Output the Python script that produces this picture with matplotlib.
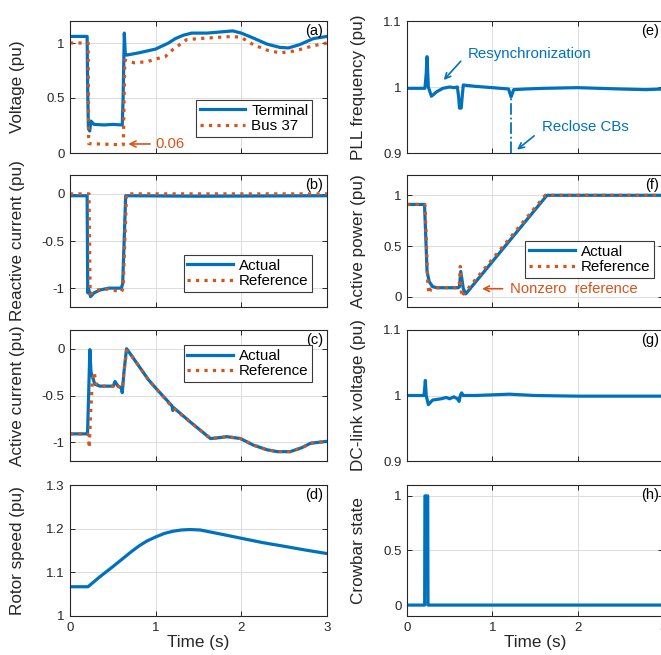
import matplotlib
matplotlib.use("Agg")
import matplotlib.pyplot as plt

plt.rcParams['font.family'] = ['Liberation Sans', 'DejaVu Sans']
plt.rcParams['axes.unicode_minus'] = False

BLUE = '#0072BD'
ORANGE = '#D95319'
DARK = '#262626'

# ---------------- data ----------------
# (a) voltage
t_term = [0, 0.2, 0.206, 0.215, 0.23, 0.245, 0.28, 0.4, 0.5, 0.61, 0.62, 0.634, 0.645, 0.66, 0.8, 1.0, 1.15,
          1.23, 1.32, 1.42, 1.6, 1.75, 1.9, 2.0, 2.14, 2.3, 2.45, 2.55, 2.68, 2.84, 3.0]
v_term = [1.06, 1.06, 0.6, 0.22, 0.2, 0.29, 0.26, 0.255, 0.26, 0.255, 0.5, 1.09, 0.9, 0.89, 0.91, 0.945, 1.0,
          1.04, 1.07, 1.09, 1.09, 1.1, 1.11, 1.09, 1.045, 0.99, 0.96, 0.955, 0.985, 1.04, 1.06]
t_bus = [0, 0.212, 0.218, 0.6, 0.622, 0.64, 0.75, 0.9, 1.0, 1.11, 1.2, 1.36, 1.5, 1.9, 2.0, 2.14, 2.3, 2.45,
         2.6, 2.68, 2.84, 3.0]
v_bus = [1.0, 1.0, 0.085, 0.075, 0.075, 0.845, 0.82, 0.83, 0.855, 0.875, 0.94, 1.03, 1.04, 1.06, 1.05, 0.985,
         0.935, 0.91, 0.925, 0.94, 0.975, 1.0]

# (b) reactive current
t_iq_act = [0, 0.2, 0.207, 0.215, 0.24, 0.28, 0.35, 0.45, 0.6, 0.615, 0.65, 0.7, 1.5, 3.0]
iq_act = [-0.02, -0.02, -1.05, -1.0, -1.09, -1.05, -1.02, -1.0, -1.0, -0.95, -0.02, -0.02, -0.025, -0.02]
t_iq_ref = [0, 0.222, 0.235, 0.26, 0.3, 0.45, 0.6, 0.62, 0.66, 3.0]
iq_ref = [0, 0, -1.06, -1.05, -1.02, -1.01, -1.04, -1.0, 0, 0]

# (c) active current
t_id_act = [0, 0.2, 0.205, 0.232, 0.245, 0.29, 0.35, 0.45, 0.505, 0.525, 0.56, 0.6, 0.61, 0.63, 0.66, 0.7,
            0.8, 0.914, 1.0, 1.19, 1.2, 1.21, 1.4, 1.64, 1.75, 1.83, 1.99, 2.14, 2.3, 2.42, 2.57, 2.7, 2.81, 3.0]
id_act = [-0.91, -0.91, -0.9, -0.01, -0.25, -0.38, -0.4, -0.4, -0.4, -0.35, -0.4, -0.42, -0.47, -0.25, 0.0,
          -0.05, -0.18, -0.33, -0.42, -0.61, -0.66, -0.63, -0.78, -0.96, -0.95, -0.94, -0.96, -1.03, -1.08,
          -1.1, -1.1, -1.06, -1.01, -0.99]
t_id_ref = [0, 0.2, 0.215, 0.225, 0.24, 0.26, 0.284, 0.3, 0.35, 0.45, 0.505, 0.525, 0.56, 0.6, 0.61, 0.63,
            0.66, 0.7, 0.8, 0.914, 1.0, 1.2, 1.4, 1.64, 1.75, 1.83, 1.99, 2.14, 2.3, 2.42, 2.57, 2.7, 2.81, 3.0]
id_ref = [-0.91, -0.91, -0.92, -1.06, -0.7, -0.35, -0.25, -0.37, -0.4, -0.4, -0.4, -0.37, -0.4, -0.41, -0.42,
          -0.25, -0.02, -0.05, -0.18, -0.33, -0.42, -0.63, -0.78, -0.96, -0.95, -0.94, -0.96, -1.03, -1.08,
          -1.1, -1.1, -1.06, -1.01, -0.99]

# (d) rotor speed
t_rot = [0, 0.21, 0.35, 0.5, 0.62, 0.72, 0.81, 0.9, 1.0, 1.1, 1.2, 1.3, 1.4, 1.52, 1.75, 2.0, 2.25, 2.49,
         2.75, 3.0]
v_rot = [1.067, 1.067, 1.09, 1.113, 1.132, 1.148, 1.161, 1.172, 1.181, 1.189, 1.194, 1.197, 1.198, 1.197,
         1.188, 1.178, 1.168, 1.16, 1.151, 1.143]

# (e) PLL frequency
t_pll = [0, 0.21, 0.225, 0.235, 0.25, 0.286, 0.35, 0.42, 0.5, 0.55, 0.59, 0.605, 0.615, 0.635, 0.65, 0.66,
         0.8, 1.0, 1.19, 1.22, 1.25, 1.4, 1.6, 2.0, 2.5, 2.8, 3.0]
v_pll = [0.998, 0.998, 1.02, 1.046, 1.0, 0.986, 0.993, 0.998, 1.0, 0.999, 1.0, 0.985, 0.968, 0.968, 0.99,
         1.003, 1.001, 0.999, 0.997, 0.985, 0.996, 0.997, 0.998, 0.999, 0.997, 0.996, 0.997]
t_reclose = 1.22
reclose_span = [0.9, 0.985]

# (f) active power
t_p_act = [0, 0.205, 0.215, 0.235, 0.26, 0.3, 0.35, 0.6, 0.615, 0.63, 0.66, 0.69, 1.64, 3.0]
p_act = [0.91, 0.91, 0.7, 0.25, 0.15, 0.1, 0.09, 0.09, 0.1, 0.25, 0.08, 0.03, 1.0, 1.0]
t_p_ref = [0, 0.21, 0.225, 0.245, 0.26, 0.28, 0.3, 0.6, 0.612, 0.625, 0.64, 0.655, 1.62, 3.0]
p_ref = [0.91, 0.91, 0.6, 0.1, 0.03, 0.08, 0.09, 0.09, 0.1, 0.3, 0.0, 0.02, 1.0, 1.0]

# (g) DC-link voltage
t_dc = [0, 0.2, 0.21, 0.215, 0.225, 0.25, 0.3, 0.4, 0.46, 0.5, 0.55, 0.59, 0.61, 0.625, 0.64, 0.66, 0.8, 1.0,
        1.2, 1.5, 2.0, 2.5, 3.0]
v_dc = [1.0, 1.0, 1.015, 1.023, 1.0, 0.986, 0.993, 0.995, 0.997, 0.995, 0.998, 0.995, 0.991, 1.0, 1.004, 1.0,
        1.0, 1.001, 1.002, 1.0, 0.999, 0.999, 0.999]

# (h) crowbar
t_cb = [0, 0.207, 0.21, 0.243, 0.246, 3.0]
v_cb = [0, 0, 1, 1, 0, 0]

x_ticks = [0, 1, 2, 3]
x_ticklabels = ['0', '1', '2', '3']

# ---------------- figure ----------------
W, H = 661, 655
fig = plt.figure(figsize=(W / 100, H / 100), dpi=100)

cols = {'L': (70, 327), 'R': (407, 663)}
rows = [(21, 153), (175, 307), (330, 461), (485, 616)]


def make_ax(col, row):
    x0, x1 = cols[col]
    y0, y1 = rows[row]
    ax = fig.add_axes([x0 / W, 1 - y1 / H, (x1 - x0) / W, (y1 - y0) / H])
    ax.set_xlim(0, 3)
    ax.set_xticks(x_ticks)
    ax.grid(True, color='#dcdcdc', lw=0.7)
    ax.set_axisbelow(True)
    ax.tick_params(direction='in', top=True, right=True, length=3.5, width=0.7,
                   labelsize=9.5, colors=DARK, labelcolor=DARK, pad=4)
    for s in ax.spines.values():
        s.set_color(DARK)
        s.set_linewidth(0.8)
    if row == 3:
        ax.set_xticklabels(x_ticklabels)
        ax.set_xlabel('Time (s)', fontsize=12.3, color=DARK, labelpad=1)
    else:
        ax.set_xticklabels([])
    return ax


def set_y(ax, lim, ticks, labels, label, col):
    ax.set_ylim(*lim)
    ax.set_yticks(ticks)
    ax.set_yticklabels(labels)
    ax.set_ylabel(label, fontsize=12.3, color=DARK)
    ax.yaxis.set_label_coords(-0.175 if col == 'L' else -0.16, 0.5)


def panel(ax, s):
    ax.text(0.985, 0.975, s, transform=ax.transAxes, ha='right', va='top', fontsize=10.5, color='black')


def legend(ax, loc, anchor):
    lg = ax.legend(loc=loc, bbox_to_anchor=anchor, borderaxespad=0, fancybox=False, framealpha=1,
                   edgecolor='#3a3a3a', fontsize=10.9, handlelength=3.0, labelspacing=0.1,
                   borderpad=0.25, handletextpad=0.4)
    lg.get_frame().set_linewidth(0.8)


LW = 2.3
# (a)
ax = make_ax('L', 0)
ax.plot(t_term, v_term, color=BLUE, lw=LW, label='Terminal')
ax.plot(t_bus, v_bus, color=ORANGE, lw=LW, ls=':', label='Bus 37')
set_y(ax, (0, 1.2), [0, 0.5, 1], ['0', '0.5', '1'], 'Voltage (pu)', 'L')
panel(ax, '(a)')
legend(ax, 'lower right', (0.942, 0.121))
ax.annotate('0.06', xy=(0.68, 0.082), xytext=(1.0, 0.082), color=ORANGE, fontsize=10.7,
            ha='left', va='center',
            arrowprops=dict(arrowstyle='->', color=ORANGE, lw=1.2, shrinkA=2, shrinkB=0))

# (b)
ax = make_ax('L', 1)
ax.plot(t_iq_act, iq_act, color=BLUE, lw=LW, label='Actual')
ax.plot(t_iq_ref, iq_ref, color=ORANGE, lw=LW, ls=':', label='Reference')
set_y(ax, (-1.2, 0.2), [-1, -0.5, 0], ['-1', '-0.5', '0'], 'Reactive current (pu)', 'L')
panel(ax, '(b)')
legend(ax, 'lower right', (0.942, 0.114))

# (c)
ax = make_ax('L', 2)
ax.plot(t_id_act, id_act, color=BLUE, lw=LW, label='Actual')
ax.plot(t_id_ref, id_ref, color=ORANGE, lw=LW, ls=':', label='Reference')
set_y(ax, (-1.2, 0.2), [-1, -0.5, 0], ['-1', '-0.5', '0'], 'Active current (pu)', 'L')
panel(ax, '(c)')
legend(ax, 'upper right', (0.942, 0.885))

# (d)
ax = make_ax('L', 3)
ax.plot(t_rot, v_rot, color=BLUE, lw=LW)
set_y(ax, (1.0, 1.3), [1.0, 1.1, 1.2, 1.3], ['1', '1.1', '1.2', '1.3'], 'Rotor speed (pu)', 'L')
panel(ax, '(d)')

# (e)
ax = make_ax('R', 0)
ax.plot(t_pll, v_pll, color=BLUE, lw=LW)
ax.plot([t_reclose, t_reclose], reclose_span, color=BLUE, lw=1.3, ls='-.')
set_y(ax, (0.9, 1.1), [0.9, 1.0, 1.1], ['0.9', '1', '1.1'], 'PLL frequency (pu)', 'R')
panel(ax, '(e)')
ax.text(0.715, 1.05, 'Resynchronization', color=BLUE, fontsize=10.8, ha='left', va='center')
ax.annotate('', xy=(0.43, 1.0106), xytext=(0.63, 1.039),
            arrowprops=dict(arrowstyle='->', color=BLUE, lw=1.2, shrinkA=0, shrinkB=0))
ax.text(1.58, 0.939, 'Reclose CBs', color=BLUE, fontsize=10.8, ha='left', va='center')
ax.annotate('', xy=(1.29, 0.905), xytext=(1.49, 0.926),
            arrowprops=dict(arrowstyle='->', color=BLUE, lw=1.2, shrinkA=0, shrinkB=0))

# (f)
ax = make_ax('R', 1)
ax.plot(t_p_act, p_act, color=BLUE, lw=LW, label='Actual')
ax.plot(t_p_ref, p_ref, color=ORANGE, lw=LW, ls=':', label='Reference')
set_y(ax, (-0.1, 1.2), [0, 0.5, 1], ['0', '0.5', '1'], 'Active power (pu)', 'R')
panel(ax, '(f)')
legend(ax, 'lower right', (0.965, 0.22))
ax.text(1.21, 0.08, 'Nonzero  reference', color=ORANGE, fontsize=10.7, ha='left', va='center')
ax.annotate('', xy=(0.88, 0.08), xytext=(1.12, 0.08),
            arrowprops=dict(arrowstyle='->', color=ORANGE, lw=1.2, shrinkA=0, shrinkB=0))

# (g)
ax = make_ax('R', 2)
ax.plot(t_dc, v_dc, color=BLUE, lw=LW)
set_y(ax, (0.9, 1.1), [0.9, 1.0, 1.1], ['0.9', '1', '1.1'], 'DC-link voltage (pu)', 'R')
panel(ax, '(g)')

# (h)
ax = make_ax('R', 3)
ax.plot(t_cb, v_cb, color=BLUE, lw=LW)
set_y(ax, (-0.1, 1.1), [0, 0.5, 1], ['0', '0.5', '1'], 'Crowbar state', 'R')
panel(ax, '(h)')

fig.savefig('out.png', dpi=100)
